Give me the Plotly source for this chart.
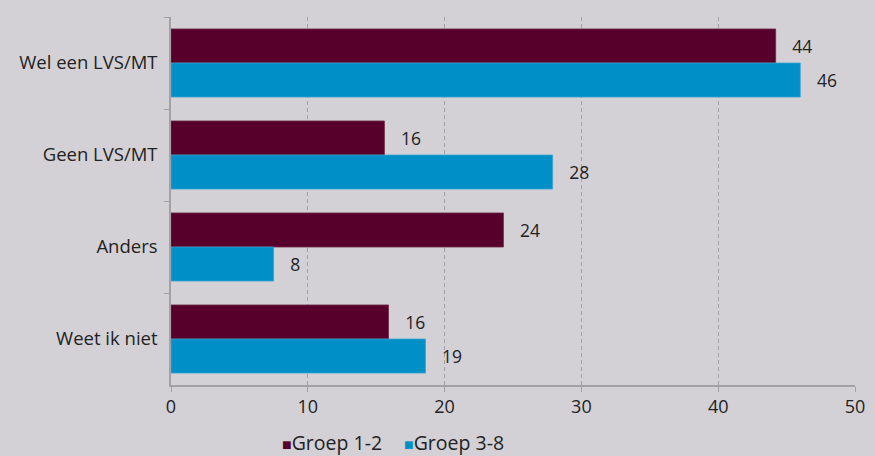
import plotly.graph_objects as go

categories = ["Wel een LVS/MT", "Geen LVS/MT", "Anders", "Weet ik niet"]
groep_1_2 = [44.2, 15.6, 24.3, 15.9]
groep_3_8 = [46.0, 27.9, 7.5, 18.6]
series_names = ["Groep 1-2", "Groep 3-8"]
x_ticks = [0, 10, 20, 30, 40, 50]

bg = "#d3d1d6"
maroon = "#56002b"
blue = "#008fc6"
grid = "#a2a1a6"
font_family = "Open Sans, Lato, sans-serif"
txt = "#222222"

fig = go.Figure()
for name, vals, col, edge in [(series_names[0], groep_1_2, maroon, "#6e2a48"),
                              (series_names[1], groep_3_8, blue, "#3aa6d2")]:
    fig.add_trace(go.Bar(
        y=categories, x=vals, name=name, orientation="h",
        marker=dict(color=col, line=dict(width=0.8, color=edge)),
        text=["   " + f"{v:.0f}" for v in vals],
        textposition="outside", cliponaxis=False,
        textfont=dict(size=17.5, color=txt, family=font_family),
        showlegend=False,
    ))

# legend drawn as text annotations
legend_x = [0.160, 0.337]
for name, col, lx in zip(series_names, [maroon, blue], legend_x):
    fig.add_annotation(
        xref="paper", yref="paper", x=lx, y=-0.155, xanchor="left", yanchor="middle",
        showarrow=False,
        text=f"<span style='color:{col};font-size:16px'>■</span>{name}",
        font=dict(size=19.5, color=txt, family=font_family),
    )

fig.update_layout(
    width=875, height=456,
    paper_bgcolor=bg, plot_bgcolor=bg,
    margin=dict(l=171, r=20, t=17, b=71, autoexpand=False),
    barmode="group", bargap=0.26, bargroupgap=0,
    font=dict(family=font_family, size=18, color=txt),
    showlegend=False,
)
fig.update_xaxes(
    range=[0, 50], tickvals=x_ticks, showgrid=True, gridcolor=grid,
    griddash="4px,3px", gridwidth=1, zeroline=False, showline=True, linecolor=grid,
    linewidth=1.5, ticks="outside", ticklen=5, tickcolor=grid,
    tickfont=dict(size=18, color=txt), automargin=False,
)
fig.update_yaxes(
    autorange="reversed", showgrid=False, showline=True, linecolor=grid,
    linewidth=1.5, ticks="outside", ticklen=5, tickcolor=grid,
    tickson="boundaries", ticklabelstandoff=8, automargin=False,
    tickfont=dict(size=18.5, color=txt),
)

fig.write_html("out.html", config={"displayModeBar": False},
               post_script="document.body.style.margin='0';document.body.style.overflow='hidden';")
